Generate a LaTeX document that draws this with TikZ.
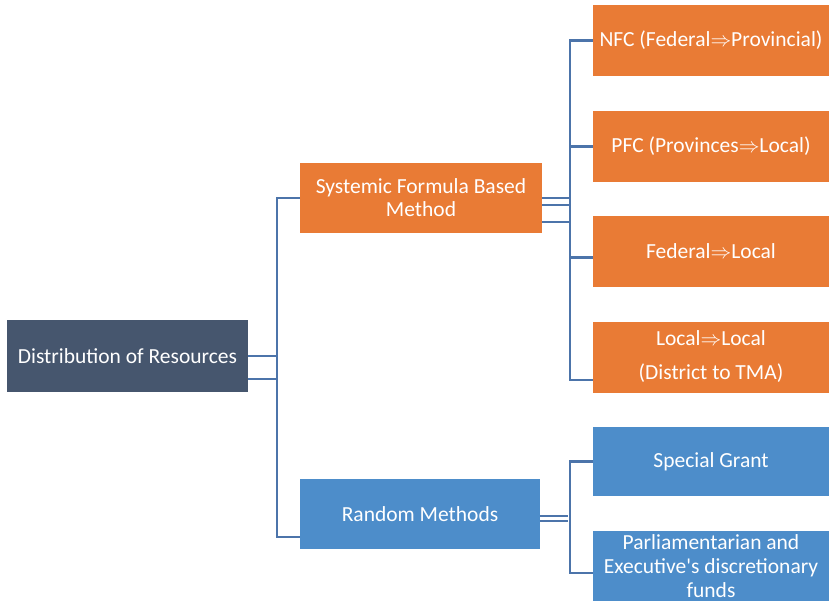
\documentclass[tikz,border=0pt]{standalone}
\usepackage{fontspec}
\setmainfont{Carlito}
\definecolor{darkbox}{HTML}{46566E}
\definecolor{orangebox}{HTML}{E97B35}
\definecolor{bluebox}{HTML}{4D8DCA}
\definecolor{connblue}{HTML}{4C74AA}
\newcommand{\arr}{\ensuremath{\Rightarrow}}
\begin{document}
\begin{tikzpicture}[x=1pt,y=-1pt,
  box/.style={rectangle, inner sep=0pt, text=white, align=center,
    font=\fontsize{21.5}{23}\selectfont, minimum height=70pt},
  rootbox/.style={box, fill=darkbox, minimum width=241pt, minimum height=72pt},
  obox/.style={box, fill=orangebox},
  bbox/.style={box, fill=bluebox},
  leafbox/.style={minimum width=236pt, minimum height=71pt},
  conn/.style={draw=connblue, line width=2.3pt}]
\useasboundingbox (0,0) rectangle (829,601);
\clip (0,0) rectangle (829,601);

\node[rootbox] (root) at (127.5,356) {Distribution of Resources};
\node[obox, minimum width=242pt] (sys) at (421,198) {Systemic Formula Based\\Method};
\node[bbox, minimum width=240pt] (rnd) at (420,514) {Random Methods};

\node[obox, leafbox] (nfc) at (711,40.5) {NFC (Federal\arr Provincial)};
\node[obox, leafbox] (pfc) at (711,146.5) {PFC (Provinces\arr Local)};
\node[obox, leafbox] (fed) at (711,251.5) {Federal\arr Local};
\node[obox, leafbox, font=\fontsize{21.5}{34}\selectfont] (loc) at (711,357) {Local\arr Local\\(District to TMA)};
\node[bbox, leafbox, minimum height=69pt] (spg) at (711,461.5) {Special Grant};
\node[bbox, leafbox, font=\fontsize{21.5}{24}\selectfont] (par) at (711,566) {Parliamentarian and\\Executive\textquotesingle s discretionary\\funds};

% root connectors
\draw[conn] (root.east) -- ++(29,0);
\draw[conn] ([yshift=-23pt]root.east) -- ++(29,0);
\draw[conn] (sys.west) -- ++(-23,0) |- ([yshift=-23pt]rnd.west);

% systemic connectors
\draw[conn] (sys.east) -- ++(28,0);
\draw[conn] ([yshift=-7pt]sys.east) -- ++(28,0);
\draw[conn] ([yshift=-24pt]sys.east) -- ++(28,0);
\draw[conn] (nfc.west) -- ++(-23,0) |- ([yshift=-23pt]loc.west);
\draw[conn] (pfc.west) -- ++(-23,0);
\draw[conn] ([yshift=-6pt]fed.west) -- ++(-23,0);

% random connectors
\draw[conn] ([yshift=-2pt]rnd.east) -- ++(28,0);
\draw[conn] ([yshift=-7pt]rnd.east) -- ++(28,0);
\draw[conn] (spg.west) -- ++(-23,0) |- ([yshift=-7pt]par.west);
\end{tikzpicture}
\end{document}
